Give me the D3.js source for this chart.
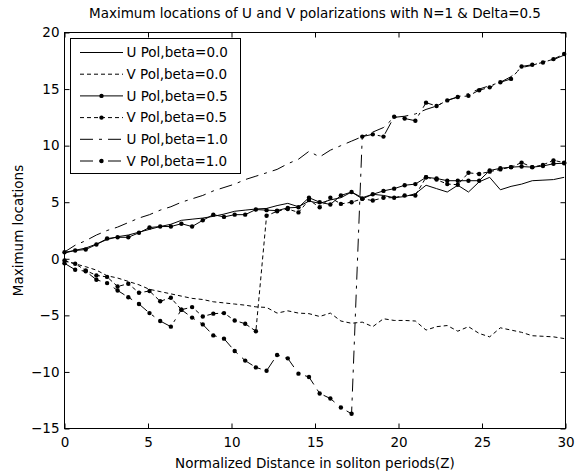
<!DOCTYPE html>
<html><head><meta charset="utf-8">
<script src="https://cdn.jsdelivr.net/npm/d3@7"></script>
<style>body{margin:0;background:#fff}svg{display:block}text{font-family:"DejaVu Sans",sans-serif;fill:#000}</style>
</head><body><svg id="c" width="581" height="473"></svg>
<script>
// ---- data ----
const z = [0,0.64,1.27,1.91,2.55,3.18,3.82,4.46,5.09,5.73,6.37,7.00,7.64,8.28,8.91,9.55,10.19,10.82,11.46,12.10,12.73,13.37,14.01,14.64,15.28,15.92,16.55,17.19,17.83,18.46,19.10,19.74,20.37,21.01,21.65,22.28,22.92,23.55,24.19,24.83,25.46,26.10,26.74,27.37,28.01,28.65,29.28,29.92];
const uBeta0 = [0.5,0.75,0.95,1.3,1.7,1.95,2.1,2.35,2.6,2.85,3.05,3.4,3.5,3.6,3.75,3.95,4.2,4.3,4.4,4.45,4.7,4.9,4.6,5.1,4.9,5.2,5.4,5.9,5.4,5.7,5.6,5.4,5.5,5.75,6.5,6.2,5.9,6.5,5.9,6.8,7.2,6.1,6.4,6.6,6.9,6.95,7.0,7.2];
const vBeta0 = [-0.2,-0.45,-0.7,-1.0,-1.5,-1.7,-2.0,-2.3,-2.7,-2.9,-3.1,-3.3,-3.5,-3.6,-3.8,-3.9,-4.0,-4.1,-4.25,-4.3,-4.8,-4.6,-4.8,-4.85,-5.1,-4.8,-5.5,-5.7,-5.6,-6.0,-5.3,-5.45,-5.45,-5.5,-6.3,-6.0,-5.9,-6.4,-6.0,-6.6,-6.9,-6.1,-6.3,-6.5,-6.8,-6.85,-6.9,-7.05];
const uBeta05 = [0.58,0.73,0.82,1.26,1.79,1.9,1.9,2.3,2.76,2.85,2.85,3.1,2.85,3.4,3.9,3.7,3.9,3.9,4.35,4.3,4.26,4.5,4.55,5.4,5.0,4.8,5.6,5.9,5.3,5.7,6.0,6.2,6.5,6.6,7.2,7.1,6.9,6.9,6.9,6.9,7.8,8.0,8.1,8.15,8.1,8.2,8.4,8.45];
const vBeta05 = [-0.15,-0.44,-1.03,-1.47,-1.6,-2.45,-2.2,-3.0,-2.85,-3.75,-3.45,-4.5,-4.27,-5.1,-4.85,-4.8,-5.45,-5.74,-6.4,3.8,4.2,4.4,4.1,5.2,4.55,5.4,4.85,5.0,5.3,5.15,5.4,5.4,5.6,5.6,7.2,7.0,6.6,6.55,7.6,7.5,7.7,7.9,8.1,8.5,8.1,8.3,8.7,8.5];
const uBeta1 = [0.6,1.2,1.6,2.1,2.5,2.8,3.2,3.6,3.9,4.3,4.6,5.0,5.3,5.6,6.0,6.3,6.6,7.0,7.3,7.6,7.9,8.4,8.8,9.5,9.0,9.6,10.0,10.4,10.8,11.2,11.6,12.5,12.6,12.8,13.2,13.5,14.0,14.3,14.6,15.0,15.3,15.6,16.1,16.9,17.1,17.4,17.6,18.0];
const vBeta1 = [-0.4,-0.97,-1.1,-1.85,-2.15,-2.8,-3.4,-4.0,-4.8,-5.5,-6.0,-4.5,-5.2,-5.8,-6.77,-7.06,-8.15,-9.0,-9.6,-9.9,-8.5,-8.8,-10.15,-10.45,-11.9,-12.35,-13.15,-13.7,10.8,11.0,10.8,12.55,12.4,12.2,13.8,13.5,14.0,14.3,14.4,14.9,15.15,15.6,15.9,17.0,17.15,17.35,17.65,18.1];
const seriesNames = ["U Pol,beta=0.0","V Pol,beta=0.0","U Pol,beta=0.5","V Pol,beta=0.5","U Pol,beta=1.0","V Pol,beta=1.0"];
const xTicks = [0,5,10,15,20,25,30];
const yTicks = [-15,-10,-5,0,5,10,15,20];
const titleText = "Maximum locations of U and V polarizations with N=1 & Delta=0.5";
const xLabel = "Normalized Distance in soliton periods(Z)";
const yLabel = "Maximum locations";

// ---- styles ----
const DOT = "4,3", DASHDOT = "13,6,3,6";
const series = [
  {v:uBeta0, dash:null, mark:false},
  {v:vBeta0, dash:DOT, mark:false},
  {v:uBeta05, dash:null, mark:true},
  {v:vBeta05, dash:DOT, mark:true},
  {v:uBeta1, dash:DASHDOT, mark:false},
  {v:vBeta1, dash:DASHDOT, mark:true}
];

const svg = d3.select("#c");
const L=64.5, R=565.5, T=32.5, B=428.5;
const x = d3.scaleLinear().domain([0,30]).range([L,R]);
const y = d3.scaleLinear().domain([-15,20]).range([B,T]);
const FS = "13.5px";

const line = d3.line().x((d,i)=>x(z[i])).y(d=>y(d));
const g = svg.append("g");
series.forEach(s=>{
  g.append("path").attr("d", line(s.v)).attr("fill","none").attr("stroke","#000")
    .attr("stroke-width",1).attr("stroke-dasharray", s.dash);
  if (s.mark) {
    g.selectAll(null).data(s.v).enter().append("circle")
      .attr("cx",(d,i)=>x(z[i])).attr("cy",d=>y(d)).attr("r",2.2).attr("fill","#000");
  }
});

// axes (ticks inward, box)
const ax = svg.append("g");
ax.append("g").attr("transform",`translate(0,${B})`)
  .call(d3.axisBottom(x).tickValues(xTicks).tickSize(-5).tickSizeOuter(0).tickPadding(9).tickFormat(d3.format("d")));
ax.append("g").attr("transform",`translate(0,${T})`)
  .call(d3.axisTop(x).tickValues(xTicks).tickSize(-5).tickSizeOuter(0).tickFormat(""));
ax.append("g").attr("transform",`translate(${L},0)`)
  .call(d3.axisLeft(y).tickValues(yTicks).tickSize(-5).tickSizeOuter(0).tickPadding(5).tickFormat(d3.format("d")));
ax.append("g").attr("transform",`translate(${R},0)`)
  .call(d3.axisRight(y).tickValues(yTicks).tickSize(-5).tickSizeOuter(0).tickFormat(""));
ax.selectAll("text").style("font-size",FS).style("font-family",'"DejaVu Sans",sans-serif');
ax.selectAll(".domain").remove();
ax.selectAll(".tick line").attr("stroke","#000");
svg.append("rect").attr("x",L).attr("y",T).attr("width",R-L).attr("height",B-T)
  .attr("fill","none").attr("stroke","#000");

// legend
const lg = svg.append("g");
lg.append("rect").attr("x",70.5).attr("y",38.5).attr("width",170).attr("height",135)
  .attr("fill","#fff").attr("stroke","#000");
series.forEach((s,k)=>{
  const ry = 52.5 + k*21.7;
  lg.append("line").attr("x1",80).attr("x2",123).attr("y1",ry).attr("y2",ry)
    .attr("stroke","#000").attr("stroke-dasharray", s.dash);
  if (s.mark) lg.append("circle").attr("cx",101.5).attr("cy",ry).attr("r",2.2).attr("fill","#000");
  lg.append("text").attr("x",126.5).attr("y",ry).attr("dy","0.36em").style("font-size",FS).text(seriesNames[k]);
});

// titles
svg.append("text").attr("x",(L+R)/2).attr("y",18).attr("text-anchor","middle").style("font-size",FS).text(titleText);
svg.append("text").attr("x",(L+R)/2).attr("y",468).attr("text-anchor","middle").style("font-size",FS).text(xLabel);
svg.append("text").attr("transform",`translate(23,${(T+B)/2}) rotate(-90)`).attr("text-anchor","middle").style("font-size",FS).text(yLabel);
</script></body></html>
